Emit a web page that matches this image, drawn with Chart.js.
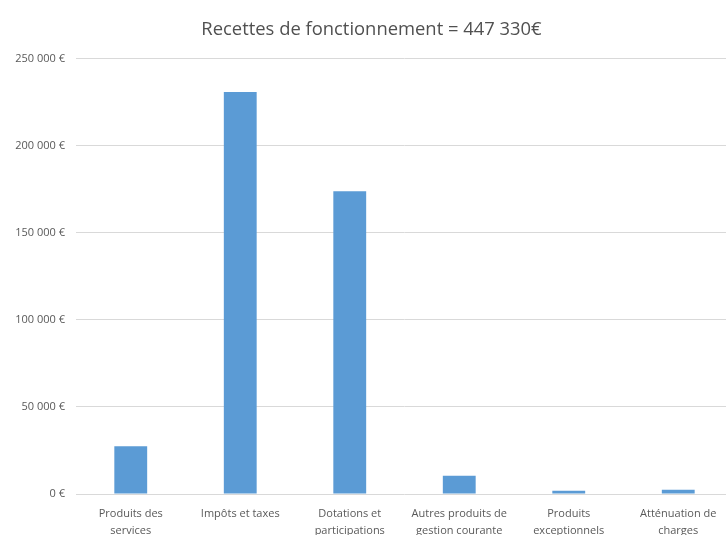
<!DOCTYPE html>
<html lang="fr">
<head>
    <meta charset="UTF-8">
    <title>Recettes de fonctionnement</title>
    <script src="https://cdn.jsdelivr.net/npm/chart.js"></script>
    <style>
        html, body {
            margin: 0;
            padding: 0;
            background: #fff;
            overflow: hidden;
        }
        .chart-container {
            width: 756px;
            height: 535px;
        }
    </style>
</head>
<body>
    <div class="chart-container">
        <canvas id="recettesChart"></canvas>
    </div>

    <script>
        // Data
        const categories = [
            ['Produits des', 'services'],
            ['Impôts et taxes'],
            ['Dotations et', 'participations'],
            ['Autres produits de', 'gestion courante'],
            ['Produits', 'exceptionnels'],
            ['Atténuation de', 'charges']
        ];
        const montants = [27500, 231000, 174000, 10500, 1800, 2500];
        const yTicks = [0, 50000, 100000, 150000, 200000, 250000];

        const textColor = '#595959';

        // "250 000 €" style labels
        function euro(v) {
            return String(v).replace(/\B(?=(\d{3})+(?!\d))/g, ' ') + ' €';
        }

        const ctx = document.getElementById('recettesChart').getContext('2d');
        new Chart(ctx, {
            type: 'bar',
            data: {
                labels: categories,
                datasets: [{
                    data: montants,
                    backgroundColor: '#5b9bd5',
                    barPercentage: 0.30,
                    categoryPercentage: 1
                }]
            },
            options: {
                responsive: true,
                maintainAspectRatio: false,
                animation: false,
                layout: {
                    padding: { left: 10, right: 23, top: 0, bottom: 0 }
                },
                plugins: {
                    legend: { display: false },
                    tooltip: { enabled: false },
                    title: {
                        display: true,
                        text: 'Recettes de fonctionnement = 447 330€',
                        color: '#505050',
                        font: { family: 'Open Sans', size: 18.4, weight: 'normal', lineHeight: 1.2 },
                        padding: { top: 19, bottom: 17.9 }
                    }
                },
                scales: {
                    x: {
                        grid: { display: false },
                        border: { display: false },
                        ticks: {
                            color: textColor,
                            font: { family: 'Open Sans', size: 11, lineHeight: 1.55 },
                            padding: 3,
                            maxRotation: 0,
                            autoSkip: false
                        },
                        afterFit: (scale) => { scale.height = 41; }
                    },
                    y: {
                        min: 0,
                        max: 250000,
                        afterBuildTicks: (scale) => {
                            scale.ticks = yTicks.map(v => ({ value: v }));
                        },
                        grid: { color: '#d9d9d9', drawTicks: false },
                        border: { display: false },
                        ticks: {
                            color: textColor,
                            font: { family: 'Open Sans', size: 11 },
                            padding: 11,
                            callback: (v) => euro(v)
                        },
                        afterFit: (scale) => { scale.width = 66; }
                    }
                }
            }
        });
    </script>
</body>
</html>
